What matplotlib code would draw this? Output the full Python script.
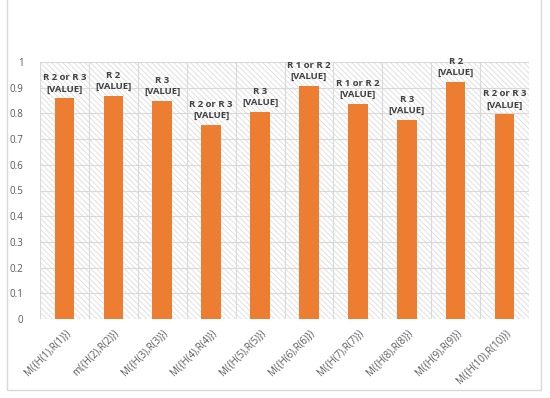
import matplotlib
matplotlib.use("Agg")
import matplotlib.pyplot as plt
from matplotlib.patches import Rectangle

categories = ["M({H(1),R(1)})", "m({H(2),R(2)})", "M({H(3),R(3)})", "M({H(4),R(4)})",
              "M({H(5),R(5)})", "M({H(6),R(6)})", "M({H(7),R(7)})", "M({H(8),R(8)})",
              "M({H(9),R(9)})", "M({H(10),R(10)})"]
values = [0.859, 0.869, 0.850, 0.755, 0.807, 0.907, 0.837, 0.774, 0.923, 0.797]
bar_labels = ["R 2 or R 3", "R 2", "R 3", "R 2 or R 3", "R 3",
              "R 1 or R 2", "R 1 or R 2", "R 3", "R 2", "R 2 or R 3"]

plt.rcParams["font.family"] = ["Open Sans", "DejaVu Sans"]
plt.rcParams["hatch.linewidth"] = 0.6
plt.rcParams["hatch.color"] = "#dcdcdc"

fig = plt.figure(figsize=(5.5, 3.98), dpi=100)
fig.patch.set_facecolor("white")

# outer chart frame
fig.patches.append(Rectangle((7 / 550, 1 - 390 / 398), 534 / 550, 400 / 398,
                             transform=fig.transFigure, fill=False,
                             edgecolor="#d9d9d9", linewidth=1.0))

ax = fig.add_axes([40 / 550, 1 - 319 / 398, 489 / 550, 257 / 398])
ax.set_facecolor("white")
ax.add_patch(Rectangle((0, 0), 1, 1, transform=ax.transAxes, facecolor="white",
                       edgecolor="#dcdcdc", hatch="\\\\\\\\\\\\", linewidth=0, zorder=0))

x = list(range(len(categories)))
ax.bar(x, values, width=0.4, color="#ED7D31", zorder=3)

for xi, v, lab in zip(x, values, bar_labels):
    ax.text(xi, v + 0.018, f"{lab}\n[VALUE]", ha="center", va="bottom",
            fontsize=6.8, color="#404040", fontweight="bold", linespacing=1.3, zorder=4)

ax.set_xlim(-0.5, len(categories) - 0.5)
ax.set_ylim(0, 1)
ax.set_yticks([i / 10 for i in range(11)])
ax.set_yticklabels(["0"] + [f"{i / 10:g}" for i in range(1, 11)])
ax.set_xticks(x)
ax.set_xticklabels(categories, rotation=45, ha="right", rotation_mode="anchor")

for xb in [i + 0.5 for i in range(-1, len(categories))]:
    ax.axvline(xb, color="#d9d9d9", linewidth=0.8, zorder=1)
for yb in [i / 10 for i in range(11)]:
    ax.axhline(yb, color="#d9d9d9", linewidth=0.8, zorder=1)

for s in ax.spines.values():
    s.set_visible(False)
ax.tick_params(axis="both", length=0, labelsize=7, labelcolor="#595959")
ax.tick_params(axis="y", pad=12)
ax.tick_params(axis="x", pad=6)

fig.savefig("out.png", dpi=100, facecolor="white")
